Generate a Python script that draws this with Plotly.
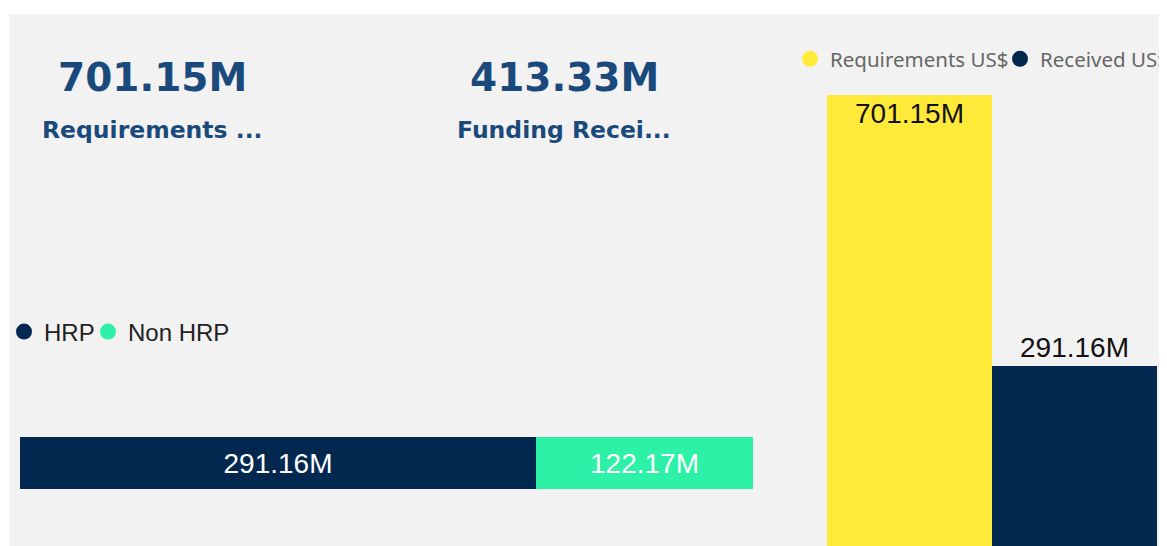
import plotly.graph_objects as go

# KPI cards
kpi_values = ["701.15M", "413.33M"]
kpi_labels = ["Requirements ...", "Funding Recei..."]

# funding received split, US$ millions
split_names = ["HRP", "Non HRP"]
split_values = [291.16, 122.17]
split_colors = ["#03284f", "#2cf1a6"]

# requirements vs received, US$ millions
compare_names = ["Requirements US$", "Received US$"]
compare_values = [701.15, 291.16]
compare_colors = ["#ffea3a", "#03284f"]

# page has an 8px body margin, so the figure is sized to fit the window
OFF = 8
W, H = 1167 - OFF, 546 - OFF
NAVY_TXT = "#1a4a7c"
ARIAL = "Liberation Sans, Arial, sans-serif"


def fx(p):
    return (p - OFF) / W


def fy(p):
    return 1 - (p - OFF) / H


fig = go.Figure()

# --- stacked horizontal bar (HRP / Non HRP) ---
for name, val, col in zip(split_names, split_values, split_colors):
    fig.add_trace(go.Bar(
        x=[val], y=["Funding"], orientation="h",
        marker=dict(color=col, line_width=0),
        text=[f"{val:.2f}M"], textposition="inside", insidetextanchor="middle",
        textfont=dict(family=ARIAL, size=28, color="white"),
        showlegend=False, xaxis="x", yaxis="y", name=name,
    ))
    # legend entry with round marker
    fig.add_trace(go.Scatter(
        x=[None], y=[None], mode="markers", name=name,
        marker=dict(size=16, color=col, symbol="circle"),
        legend="legend", xaxis="x", yaxis="y",
        legendwidth=39 if name == "HRP" else None,
    ))

# --- requirements vs received columns ---
for name, val, col in zip(compare_names, compare_values, compare_colors):
    first = name == compare_names[0]
    fig.add_trace(go.Bar(
        x=[name], y=[val],
        marker=dict(color=col, line_width=0),
        text=[f"{val:.2f}M"],
        textposition="inside" if first else "outside",
        insidetextanchor="end",
        textfont=dict(family=ARIAL, size=28, color="#111111"),
        showlegend=False, xaxis="x2", yaxis="y2", name=name,
    ))
    fig.add_trace(go.Scatter(
        x=[None], y=[None], mode="markers", name=name,
        marker=dict(size=16, color=col, symbol="circle"),
        legend="legend2", xaxis="x2", yaxis="y2",
        legendwidth=165 if first else 128,
    ))

annotations = []
for i, (v, lab) in enumerate(zip(kpi_values, kpi_labels)):
    cx = [152, 564][i]
    annotations.append(dict(
        x=fx(cx), y=fy(78), xref="paper", yref="paper", showarrow=False,
        text=f"<b>{v}</b>", xanchor="center", yanchor="middle",
        font=dict(family="DejaVu Sans", size=39, color=NAVY_TXT)))
    annotations.append(dict(
        x=fx(cx), y=fy(130), xref="paper", yref="paper", showarrow=False,
        text=f"<b>{lab}</b>", xanchor="center", yanchor="middle",
        font=dict(family="DejaVu Sans", size=23.5, color=NAVY_TXT)))

fig.update_layout(
    width=W, height=H,
    margin=dict(l=0, r=0, t=0, b=0, autoexpand=False),
    paper_bgcolor="white", plot_bgcolor="rgba(0,0,0,0)",
    barmode="stack", bargap=0,
    xaxis=dict(domain=[fx(20), fx(753)], range=[0, sum(split_values)], visible=False),
    yaxis=dict(domain=[fy(489), fy(437)], visible=False),
    xaxis2=dict(domain=[fx(827), fx(1157)], anchor="y2", visible=False),
    yaxis2=dict(domain=[0, fy(80)], range=[19, 724], anchor="x2", visible=False),
    legend=dict(orientation="h", x=fx(4), y=fy(332), xanchor="left", yanchor="middle",
                traceorder="normal",
                font=dict(family=ARIAL, size=24, color="#222222"),
                bgcolor="rgba(0,0,0,0)", itemwidth=30),
    legend2=dict(orientation="h", x=fx(790), y=fy(59), xanchor="left", yanchor="middle",
                 traceorder="normal",
                 font=dict(family="Noto Sans, Open Sans, sans-serif", size=20.5, color="#666666"),
                 bgcolor="rgba(0,0,0,0)", itemwidth=30),
    shapes=[dict(type="rect", xref="paper", yref="paper", x0=fx(9), x1=1, y0=0, y1=fy(14),
                 fillcolor="#f2f2f2", line_width=0, layer="below")],
    annotations=annotations,
    showlegend=True,
)

fig.write_html("out.html")
